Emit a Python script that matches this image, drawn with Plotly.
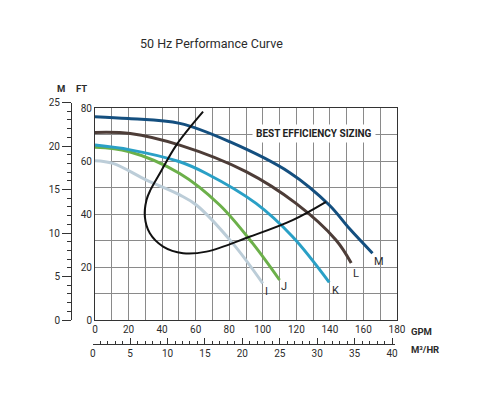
import plotly.graph_objects as go

# ---- data (GPM, FT) ----
curve_names = ["I", "J", "K", "L", "M"]
curve_colors = ["#bccdd8", "#6cb04a", "#2aa0c6", "#4d3d38", "#144f7f"]

I_gpm = [0, 10.7, 30.7, 50.5, 60.4, 82, 100]
I_ft = [60.1, 59.1, 52.8, 47.2, 43.4, 29, 13.8]

J_gpm = [0, 20, 50.5, 74.3, 94, 110]
J_ft = [65.2, 63.6, 55.3, 43.4, 28.9, 15.1]

K_gpm = [0, 21, 50.5, 66.4, 96, 117.8, 139.6]
K_ft = [66.0, 64.2, 59.7, 55.3, 44.0, 31.4, 14.2]

L_gpm = [0, 21, 50.5, 90, 119.8, 143.6, 152.7]
L_ft = [70.8, 70.4, 66.0, 56.0, 44.0, 30.2, 21.5]

M_gpm = [0, 20, 50.5, 80.2, 115.9, 139.6, 151.5, 165.4]
M_ft = [76.7, 76.0, 74.2, 67.3, 55.7, 43.4, 34.6, 25.2]

BE_gpm = [64.4, 48.5, 38.6, 33, 30.7, 29.7, 32.7, 40.6, 52.5, 66.4, 92.1, 117.8, 137.7]
BE_ft = [78.6, 66, 55.3, 49, 45.3, 39, 32.7, 27.7, 25.2, 25.8, 31.4, 37.7, 44.6]

label_gpm = [102.2, 112.9, 143.2, 155.7, 169.3]
label_ft = [10.6, 12.5, 11.3, 17.7, 21.9]

gpm_ticks = [0, 20, 40, 60, 80, 100, 120, 140, 160, 180]
ft_ticks = [0, 20, 40, 60, 80]
m_ticks = [0, 5, 10, 15, 20, 25]
m3h_ticks = [0, 5, 10, 15, 20, 25, 30, 35, 40]

W, H = 487, 395
L_M, R_M, T_M, B_M = 50, 90, 95, 51
PW = W - L_M - R_M
PH = H - T_M - B_M


def px(xp):
    return (xp - L_M) / PW


def py(yp):
    return (H - B_M - yp) / PH


FONT = "Roboto"
TXT = "#2b2b2b"

fig = go.Figure()
series = [(I_gpm, I_ft), (J_gpm, J_ft), (K_gpm, K_ft), (L_gpm, L_ft), (M_gpm, M_ft)]
for name, color, (xs, ys) in zip(curve_names, curve_colors, series):
    fig.add_trace(go.Scatter(x=xs, y=ys, mode="lines", name=name,
                             line=dict(color=color, width=3, shape="spline", smoothing=1.0),
                             hoverinfo="skip", showlegend=False))

fig.add_trace(go.Scatter(x=BE_gpm, y=BE_ft, mode="lines",
                         line=dict(color="#111111", width=2, shape="spline", smoothing=1.0),
                         hoverinfo="skip", showlegend=False))

# dummy trace so secondary axes render
fig.add_trace(go.Scatter(x=[0], y=[0], xaxis="x2", yaxis="y2", mode="markers",
                         marker=dict(opacity=0), hoverinfo="skip", showlegend=False))

for name, x, y in zip(curve_names, label_gpm, label_ft):
    fig.add_annotation(x=x, y=y, xref="x", yref="y", text=name, showarrow=False,
                       xanchor="center", yanchor="middle",
                       font=dict(family=FONT, size=11, color=TXT))

fig.add_annotation(x=130.7, y=70.4, xref="x", yref="y", text="<b>BEST EFFICIENCY SIZING</b>",
                   showarrow=False, bgcolor="white", borderpad=3,
                   xanchor="center", yanchor="middle",
                   font=dict(family=FONT, size=10, color="#222"))


def paper_text(xp, yp, text, size, xanchor="center", bold=False):
    fig.add_annotation(x=px(xp), y=py(yp), xref="paper", yref="paper",
                       text=f"<b>{text}</b>" if bold else text, showarrow=False,
                       xanchor=xanchor, yanchor="middle",
                       font=dict(family=FONT, size=size, color=TXT))


paper_text(211, 44, "50 Hz Performance Curve", 12.5)
paper_text(61, 89, "M", 9.5, bold=True)
paper_text(81, 89, "FT", 9.5, bold=True)
paper_text(409, 331, "GPM", 9.5, xanchor="left", bold=True)
paper_text(409, 349, "M³/HR", 9.5, xanchor="left", bold=True)

tickfont = dict(family=FONT, size=10, color=TXT)
gridc = "#8a8a8a"

fig.update_layout(
    width=W, height=H,
    margin=dict(l=L_M, r=R_M, t=T_M, b=B_M, pad=0),
    paper_bgcolor="white", plot_bgcolor="rgba(0,0,0,0)",
    xaxis=dict(domain=[px(95), 1], range=[0, 180], tickvals=gpm_ticks,
               showgrid=True, gridcolor=gridc, gridwidth=1,
               minor=dict(dtick=10, showgrid=True, gridcolor=gridc, gridwidth=1),
               showline=True, mirror=True, linecolor="#333", linewidth=1,
               zeroline=False, ticks="", tickfont=tickfont, anchor="y", fixedrange=True),
    yaxis=dict(domain=[py(320), py(108)], range=[0, 80], tickvals=ft_ticks,
               showgrid=True, gridcolor=gridc, gridwidth=1,
               minor=dict(dtick=10, showgrid=True, gridcolor=gridc, gridwidth=1),
               showline=True, mirror=True, linecolor="#333", linewidth=1,
               zeroline=False, ticks="", tickfont=tickfont, anchor="x", fixedrange=True),
    xaxis2=dict(domain=[px(92.7), px(395)], range=[0, 40.4], tickvals=m3h_ticks,
                anchor="free", position=0, side="bottom",
                showline=True, linecolor="#333", linewidth=1,
                ticks="inside", ticklen=6, tickcolor="#333",
                minor=dict(dtick=1, ticks="inside", ticklen=3, tickcolor="#333", showgrid=False),
                showgrid=False, zeroline=False, tickfont=tickfont, fixedrange=True),
    yaxis2=dict(domain=[py(320), py(102.6)], range=[0, 25], tickvals=m_ticks,
                anchor="free", position=px(71), side="left",
                showline=True, linecolor="#333", linewidth=1,
                ticks="outside", ticklen=9, tickcolor="#333",
                minor=dict(dtick=1, ticks="outside", ticklen=4, tickcolor="#333", showgrid=False),
                showgrid=False, zeroline=False, tickfont=tickfont, fixedrange=True),
)

fig.write_html("out.html", config={"displayModeBar": False},
               post_script="document.body.style.margin='0';")
